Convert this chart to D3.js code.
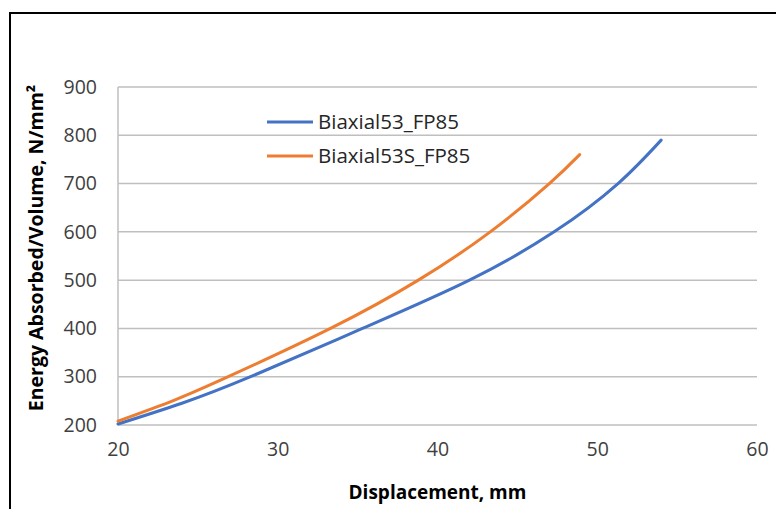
<!DOCTYPE html>
<html>
<head>
<meta charset="utf-8">
<script src="https://cdn.jsdelivr.net/npm/d3@7"></script>
<style>
  body { margin: 0; background: #fff; }
  svg { display: block; font-family: "Open Sans", sans-serif; }
</style>
</head>
<body>
<svg id="canvas" width="776" height="509"></svg>
<script>
const seriesNames = ["Biaxial53_FP85", "Biaxial53S_FP85"]
const seriesColors = ["#4472C4", "#ED7D31"]

// displacement (mm) vs energy absorbed / volume (N/mm^2)
const biaxialX = [20, 24, 28.3, 35.3, 42.0, 47.3, 51.3, 54.0]
const biaxialY = [202, 245, 300, 400, 500, 600, 700, 790]
const biaxialSX = [20, 23.5, 26.9, 33.3, 38.8, 43.3, 47.0, 48.9]
const biaxialSY = [208, 251, 300, 400, 500, 600, 700, 760]

const xTicks = [20, 30, 40, 50, 60]
const yTicks = [200, 300, 400, 500, 600, 700, 800, 900]

const fontFamily = "'Open Sans', sans-serif"

const svg = d3.select("#canvas")

// outer chart frame, runs off the right and bottom edge
svg.append("rect")
  .attr("x", 10).attr("y", 13)
  .attr("width", 800).attr("height", 540)
  .attr("fill", "none")
  .attr("stroke", "#000")
  .attr("stroke-width", 2)

const x = d3.scaleLinear().domain([20, 60]).range([118, 757])
const y = d3.scaleLinear().domain([200, 900]).range([425, 87])

// gridlines
svg.append("g")
  .selectAll("line")
  .data(yTicks)
  .enter().append("line")
  .attr("x1", x(20)).attr("x2", x(60))
  .attr("y1", d => y(d)).attr("y2", d => y(d))
  .attr("stroke", "#bfbfbf")
  .attr("stroke-width", 1.5)

// left axis line
svg.append("line")
  .attr("x1", x(20)).attr("x2", x(20))
  .attr("y1", y(200)).attr("y2", y(900))
  .attr("stroke", "#bfbfbf")
  .attr("stroke-width", 1.5)

const yAxis = svg.append("g")
  .attr("transform", `translate(${x(20)},0)`)
  .call(d3.axisLeft(y).tickValues(yTicks).tickSize(0).tickPadding(21))
yAxis.select(".domain").remove()

const xAxis = svg.append("g")
  .attr("transform", `translate(0,${y(200)})`)
  .call(d3.axisBottom(x).tickValues(xTicks).tickSize(0).tickPadding(17))
xAxis.select(".domain").remove()

svg.selectAll(".tick text")
  .attr("font-family", fontFamily)
  .attr("font-size", 19.5)
  .attr("fill", "#404040")

// series
const line = d3.line()
  .x(d => x(d[0]))
  .y(d => y(d[1]))
  .curve(d3.curveNatural)

const series = [
  d3.zip(biaxialX, biaxialY),
  d3.zip(biaxialSX, biaxialSY)
]

svg.append("g")
  .selectAll("path")
  .data(series)
  .enter().append("path")
  .attr("d", line)
  .attr("fill", "none")
  .attr("stroke", (d, i) => seriesColors[i])
  .attr("stroke-width", 3)
  .attr("stroke-linecap", "round")

// legend
const legend = svg.append("g")
  .selectAll("g")
  .data(seriesNames)
  .enter().append("g")
  .attr("transform", (d, i) => `translate(267,${122 + i * 34})`)

legend.append("line")
  .attr("x1", 0).attr("x2", 46)
  .attr("stroke", (d, i) => seriesColors[i])
  .attr("stroke-width", 3)

legend.append("text")
  .attr("x", 51).attr("dy", "0.35em")
  .attr("font-size", 20.5)
  .attr("fill", "#262626")
  .text(d => d)

// axis titles
svg.append("text")
  .attr("x", x(40)).attr("y", 499)
  .attr("text-anchor", "middle")
  .attr("font-size", 19)
  .attr("font-weight", "bold")
  .attr("fill", "#000")
  .text("Displacement, mm")

svg.append("text")
  .attr("transform", `translate(43,248) rotate(-90)`)
  .attr("text-anchor", "middle")
  .attr("font-size", 19.5)
  .attr("font-weight", "bold")
  .attr("fill", "#000")
  .text("Energy Absorbed/Volume, N/mm²")
</script>
</body>
</html>
